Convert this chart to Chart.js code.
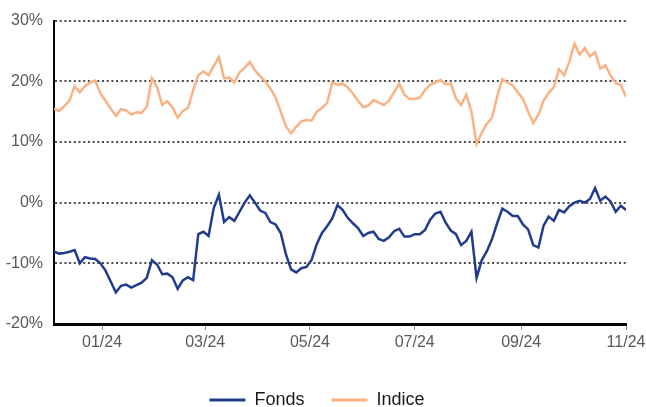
<!DOCTYPE html>
<html>
<head>
<meta charset="utf-8">
<script src="https://cdn.jsdelivr.net/npm/chart.js@4.4.0/dist/chart.umd.min.js"></script>
<style>
  html, body { margin: 0; padding: 0; background: #fff; }
</style>
</head>
<body>
<canvas id="perfChart" width="646" height="407"></canvas>
<script>
// day offsets from 2023-12-01, one sample every 3 days
const firstDay = 3;
const stepDays = 3;

const fonds = [
  -8.1, -8.4, -8.3, -8.1, -7.8, -10.0, -9.0, -9.2, -9.3, -10.0,
  -11.2, -13.0, -14.8, -13.7, -13.5, -14.0, -13.6, -13.2, -12.4, -9.5,
  -10.2, -11.8, -11.7, -12.3, -14.2, -12.8, -12.3, -12.8, -5.2, -4.8,
  -5.5, -0.9, 1.3, -3.2, -2.4, -3.0, -1.5, 0.0, 1.2, 0.0,
  -1.3, -1.7, -3.2, -3.6, -5.0, -8.5, -11.0, -11.5, -10.8, -10.6,
  -9.4, -6.8, -5.0, -3.9, -2.6, -0.4, -1.2, -2.5, -3.4, -4.2,
  -5.5, -5.0, -4.8, -6.0, -6.3, -5.7, -4.7, -4.3, -5.6, -5.6,
  -5.2, -5.2, -4.5, -2.8, -1.8, -1.5, -3.3, -4.6, -5.2, -7.0,
  -6.3, -4.8, -12.4, -9.5, -8.0, -6.0, -3.4, -1.0, -1.5, -2.2,
  -2.2, -3.6, -4.4, -7.0, -7.4, -3.8, -2.3, -3.0, -1.2, -1.6,
  -0.6, 0.0, 0.3, 0.0, 0.6, 2.4, 0.3, 1.0, 0.2, -1.5,
  -0.5, -1.2
];

const indice = [
  15.5, 15.1, 15.9, 16.8, 19.2, 18.2, 19.2, 19.8, 20.1, 18.0,
  16.8, 15.5, 14.3, 15.4, 15.2, 14.5, 14.9, 14.8, 15.8, 20.5,
  19.0, 16.1, 16.7, 15.7, 14.0, 15.1, 15.6, 18.5, 21.0, 21.6,
  21.0, 22.5, 24.0, 20.5, 20.6, 19.8, 21.5, 22.2, 23.2, 21.8,
  20.8, 20.0, 18.8, 17.3, 15.0, 12.6, 11.4, 12.5, 13.4, 13.6,
  13.5, 15.0, 15.6, 16.4, 19.8, 19.4, 19.6, 19.0, 18.0, 16.8,
  15.7, 16.0, 16.9, 16.5, 16.1, 16.8, 18.2, 19.6, 17.8, 17.1,
  17.1, 17.3, 18.6, 19.4, 19.8, 20.2, 19.5, 19.6, 17.2, 16.1,
  17.8, 15.0, 9.7, 11.5, 13.0, 14.0, 17.5, 20.3, 19.8, 19.3,
  18.2, 17.1, 15.0, 13.1, 14.5, 16.8, 18.1, 19.0, 22.0, 21.0,
  23.2, 26.2, 24.4, 25.5, 24.1, 24.8, 22.1, 22.6, 21.0, 19.7,
  19.4, 17.4
];

// month starts (days from 2023-12-01) and their labels
const tickDays = [31, 91, 152, 213, 275, 336];
const tickLabels = ['01/24', '03/24', '05/24', '07/24', '09/24', '11/24'];

const days = fonds.map((_, i) => firstDay + i * stepDays);

const NAVY = '#213c8d';
const PEACH = '#f9b283';

Chart.defaults.font.family = "'Liberation Sans', Arial, sans-serif";

// nudge the legend a bit lower / right once the layout is done
const legendShift = {
    id: 'legendShift',
    afterLayout(chart) {
        if (chart.legend) {
            chart.legend.top += 12;
            chart.legend.bottom += 12;
            chart.legend.left += 4;
            chart.legend.right += 4;
        }
    }
};

const ctx = document.getElementById('perfChart').getContext('2d');
const perfChart = new Chart(ctx, {
    type: 'line',
    data: {
        datasets: [
            {
                label: 'Fonds',
                data: days.map((d, i) => ({ x: d, y: fonds[i] })),
                borderColor: NAVY,
                backgroundColor: NAVY,
                borderWidth: 2.5,
                pointRadius: 0,
                tension: 0
            },
            {
                label: 'Indice',
                data: days.map((d, i) => ({ x: d, y: indice[i] })),
                borderColor: PEACH,
                backgroundColor: PEACH,
                borderWidth: 2.5,
                pointRadius: 0,
                tension: 0
            }
        ]
    },
    options: {
        responsive: false,
        animation: false,
        layout: { padding: { top: 17, right: 20, bottom: 0, left: 0 } },
        plugins: {
            tooltip: { enabled: false },
            legend: {
                position: 'bottom',
                labels: {
                    boxWidth: 36,
                    boxHeight: 3,
                    padding: 27,
                    color: '#1a1a1a',
                    font: { size: 18 },
                    generateLabels: chart => Chart.defaults.plugins.legend.labels
                        .generateLabels(chart)
                        .map(item => Object.assign(item, { lineWidth: 0 }))
                }
            }
        },
        scales: {
            x: {
                type: 'linear',
                min: firstDay,
                max: 336,
                afterBuildTicks: scale => {
                    scale.ticks = tickDays.map(v => ({ value: v }));
                },
                afterFit: scale => {
                    scale.height = 28;
                    scale.paddingRight = 0;
                },
                ticks: {
                    autoSkip: false,
                    maxRotation: 0,
                    padding: 3,
                    color: '#595959',
                    font: { size: 16 },
                    callback: v => tickLabels[tickDays.indexOf(v)]
                },
                grid: {
                    drawOnChartArea: false,
                    drawTicks: true,
                    tickLength: 6,
                    color: '#8c8c8c'
                },
                border: { color: '#000', width: 3 }
            },
            y: {
                min: -20,
                max: 30,
                afterFit: scale => { scale.width = 54; },
                ticks: {
                    stepSize: 10,
                    padding: 11,
                    color: '#595959',
                    font: { size: 16 },
                    callback: v => v + '%'
                },
                grid: {
                    drawTicks: false,
                    lineWidth: 2,
                    color: c => c.tick && c.tick.value === -20 ? 'rgba(0,0,0,0)' : '#4a4a4a'
                },
                border: { color: '#000', width: 2, dash: [2, 2.7] }
            }
        }
    },
    plugins: [legendShift]
});
</script>
</body>
</html>
